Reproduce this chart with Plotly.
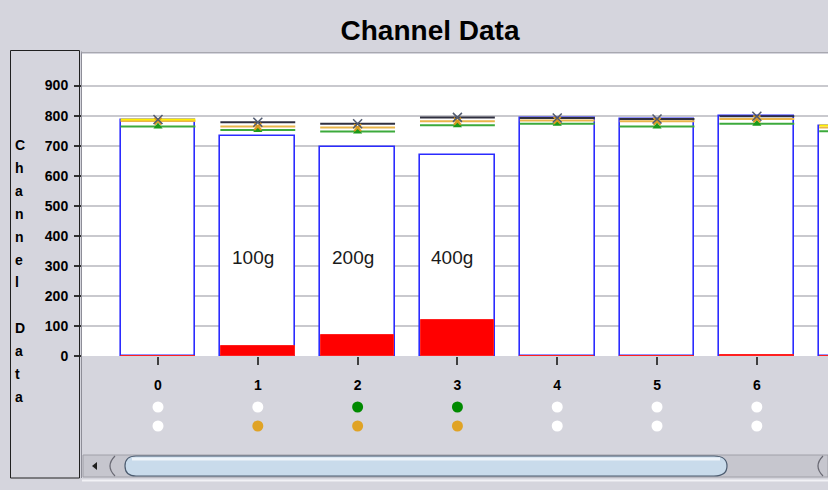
import plotly.graph_objects as go

# ---------------- data ----------------
categories = [0, 1, 2, 3, 4, 5, 6, 7]
tick_labels = ["0", "1", "2", "3", "4", "5", "6", "7"]
bar_values = [785, 733, 694, 670, 792, 789, 798, 767]
red_values = [0, 33, 70, 120, 0, 0, 2, 0]
black_line = [None, 778, 773, 794, 792, 789, 798, None]
yellow_line = [787, None, None, None, None, None, None, 767]
orange_line = [782, 764, 760, 781, 784, 781, 789, 760]
green_line = [764, 752, 747, 768, 773, 764, 773, 748]
bar_labels = {1: "100g", 2: "200g", 3: "400g"}
dots_row1 = ["white", "white", "green", "green", "white", "white", "white", "white"]
dots_row2 = ["white", "orange", "orange", "orange", "white", "white", "white", "white"]
y_ticks = [0, 100, 200, 300, 400, 500, 600, 700, 800, 900]

# ---------------- style ----------------
W, H = 828, 490
L, R, T = 82, 828, 54          # plot area (pixels); plot area runs to the bottom
AXIS_Y = 356                   # pixel row of the value axis baseline
BG = "#d5d5dd"
BAR_W = 0.75
X_RANGE = [-0.7615, 6.713]
Y_RANGE = [0, 1005]
LABEL_Y = 327
ROW_TOP, ROW_STEP = 407, 19    # pixel position of first dot row, spacing
DOT_COLORS = {"white": "white", "green": "#008a00", "orange": "#e0a325"}
FONT = "Liberation Sans, Arial, sans-serif"

MAIN_DOMAIN = [(H - AXIS_Y) / (H - T), 1]
DOT_DOMAIN = [0, MAIN_DOMAIN[0]]
ROW_RANGE = [(H - ROW_TOP) / ROW_STEP, (AXIS_Y - ROW_TOP) / ROW_STEP]


def px(x):
    return (x - L) / (R - L)


def py(y):
    return (H - y) / (H - T)


def segments(vals):
    xs, ys = [], []
    for c, v in zip(categories, vals):
        if v is None:
            continue
        xs += [c - BAR_W / 2, c + BAR_W / 2, None]
        ys += [v, v, None]
    return xs, ys


fig = go.Figure()

fig.add_trace(go.Bar(x=categories, y=bar_values, width=BAR_W,
                     marker=dict(color="white", line=dict(color="#2b2bff", width=1.6)),
                     hoverinfo="skip"))
fig.add_trace(go.Bar(x=categories, y=red_values, width=BAR_W - 0.012,
                     marker=dict(color="#ff0000", line=dict(color="#ff2020", width=1)),
                     hoverinfo="skip"))

for vals, col in [(green_line, "#3caa3c"), (orange_line, "#e9b54a"),
                  (yellow_line, "#ffee00"), (black_line, "#303040")]:
    xs, ys = segments(vals)
    fig.add_trace(go.Scatter(x=xs, y=ys, mode="lines",
                             line=dict(color=col, width=2), hoverinfo="skip"))

top_vals = [max(v for v in (b, yv, o, g) if v is not None)
            for b, yv, o, g in zip(black_line, yellow_line, orange_line, green_line)]
fig.add_trace(go.Scatter(x=categories, y=green_line, mode="markers",
                         marker=dict(symbol="triangle-up", size=8, color="#1a9a1a"),
                         hoverinfo="skip"))
fig.add_trace(go.Scatter(x=categories, y=orange_line, mode="markers",
                         marker=dict(symbol="x-thin", size=7,
                                     line=dict(color="#d89a20", width=2)),
                         hoverinfo="skip"))
fig.add_trace(go.Scatter(x=categories, y=top_vals, mode="markers",
                         marker=dict(symbol="x-thin", size=9,
                                     line=dict(color="#505a70", width=1.5)),
                         hoverinfo="skip"))

# status dots below the axis (own subplot sharing the x scale)
for r, row in enumerate([dots_row1, dots_row2]):
    fig.add_trace(go.Scatter(x=categories, y=[r] * len(categories), mode="markers",
                             xaxis="x2", yaxis="y2",
                             marker=dict(size=11, color=[DOT_COLORS[c] for c in row]),
                             cliponaxis=False, hoverinfo="skip"))

annotations = []
for c, t in bar_labels.items():
    annotations.append(dict(x=c - 0.05, y=LABEL_Y, text=t, showarrow=False,
                            font=dict(family=FONT, size=19, color="#1a1a1a")))

# vertical axis title, one letter per line
letters = list("Channel") + [""] + list("Data")
for i, ch in enumerate(letters):
    if not ch:
        continue
    annotations.append(dict(xref="paper", yref="paper", x=px(13), y=py(145 + i * 22.9),
                            xanchor="left", yanchor="middle", text=ch, showarrow=False,
                            font=dict(family=FONT, size=14, color="black", weight="bold")))

shapes = [
    # white value area
    dict(type="rect", xref="x domain", yref="y domain", x0=0, x1=1, y0=0, y1=1,
         fillcolor="white", line=dict(width=0), layer="below"),
    # left label panel
    dict(type="rect", xref="paper", yref="paper", x0=px(10.5), x1=px(79.5),
         y0=py(478), y1=py(50.5), line=dict(color="#202020", width=1)),
    # plot frame lines
    dict(type="line", xref="paper", yref="paper", x0=px(81.5), x1=px(81.5),
         y0=py(478), y1=py(51.5), line=dict(color="#8e8e98", width=1)),
    dict(type="line", xref="paper", yref="paper", x0=px(81.5), x1=px(828),
         y0=py(52.5), y1=py(52.5), line=dict(color="#a8a8b0", width=1)),
    # scrollbar track
    dict(type="rect", xref="paper", yref="paper", x0=px(83), x1=px(828),
         y0=py(477), y1=py(455), fillcolor="#c6c6ce", line=dict(color="#a0a0a8", width=1)),
    dict(type="line", xref="paper", yref="paper", x0=px(82), x1=px(828),
         y0=py(480.5), y1=py(480.5), line=dict(color="#f2f2f6", width=2)),
    # left arrow button
    dict(type="path", xref="paper", yref="paper",
         path=f"M {px(92)} {py(466)} L {px(97)} {py(462)} L {px(97)} {py(470)} Z",
         fillcolor="#202020", line=dict(width=0)),
    # thumb end caps
    dict(type="path", xref="paper", yref="paper",
         path=f"M {px(115)} {py(456)} Q {px(105)} {py(466)} {px(115)} {py(476)}",
         line=dict(color="#6a6a74", width=1.2)),
    dict(type="path", xref="paper", yref="paper",
         path=f"M {px(823)} {py(456)} Q {px(813)} {py(466)} {px(823)} {py(476)}",
         line=dict(color="#6a6a74", width=1.2)),
    # thumb
    dict(type="path", xref="paper", yref="paper",
         path=(f"M {px(136)} {py(456)} L {px(714)} {py(456)} "
               f"Q {px(727)} {py(456)} {px(727)} {py(466)} "
               f"Q {px(727)} {py(476)} {px(714)} {py(476)} "
               f"L {px(136)} {py(476)} "
               f"Q {px(125)} {py(476)} {px(125)} {py(466)} "
               f"Q {px(125)} {py(456)} {px(136)} {py(456)} Z"),
         fillcolor="#c9dbeb", line=dict(color="#4c5c70", width=1.2)),
    dict(type="line", xref="paper", yref="paper", x0=px(132), x1=px(720),
         y0=py(459), y1=py(459), line=dict(color="#eef4fa", width=3)),
]

fig.update_layout(
    width=W, height=H,
    margin=dict(l=L, r=W - R, t=T, b=0, pad=0, autoexpand=False),
    paper_bgcolor=BG, plot_bgcolor=BG,
    barmode="overlay", bargap=0, showlegend=False,
    title=dict(text="<b>Channel Data</b>", xref="container", yref="container",
               x=430 / W, y=1 - 30 / H, xanchor="center", yanchor="middle",
               font=dict(family=FONT, size=28, color="black")),
    xaxis=dict(range=X_RANGE, tickmode="array", tickvals=categories, ticktext=tick_labels,
               showgrid=False, zeroline=False, showline=False, anchor="y",
               ticks="outside", ticklen=8, tickwidth=2, tickcolor="#404040",
               ticklabelstandoff=8, automargin=False,
               tickfont=dict(family=FONT, size=14, color="black", weight="bold")),
    yaxis=dict(range=Y_RANGE, domain=MAIN_DOMAIN, tickmode="array", tickvals=y_ticks,
               showgrid=True, gridcolor="#c9c9ce", gridwidth=1.5, zeroline=False,
               showline=False, ticks="outside", ticklen=7, tickwidth=1.5,
               tickcolor="#303030", ticklabelstandoff=3, automargin=False,
               tickfont=dict(family=FONT, size=14, color="black", weight="bold")),
    xaxis2=dict(matches="x", anchor="y2", visible=False, showgrid=False, automargin=False),
    yaxis2=dict(range=ROW_RANGE, domain=DOT_DOMAIN, anchor="x2", visible=False,
                showgrid=False, automargin=False),
    annotations=annotations,
    shapes=shapes,
)

fig.write_html("out.html", config={"displayModeBar": False},
               post_script="document.body.style.margin='0';")
